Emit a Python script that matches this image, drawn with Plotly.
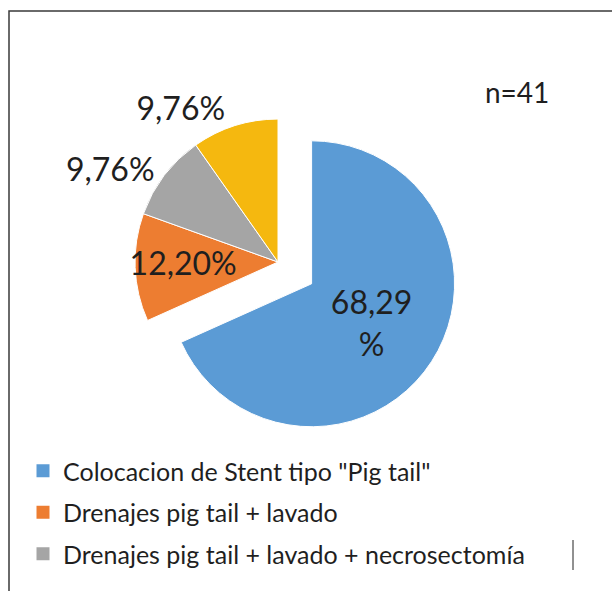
import plotly.graph_objects as go

# data (n=41)
categories = [
    'Colocacion de Stent tipo "Pig tail"',
    "Drenajes pig tail + lavado",
    "Drenajes pig tail + lavado + necrosectomía",
    "Otros",
]
counts = [28, 5, 4, 4]
colors = ["#5B9BD5", "#ED7D31", "#A5A5A5", "#F5B80F"]
legend_shown = 3  # the 4th legend entry is cropped out of the original picture

total = sum(counts)
pct_text = [f"{c / total * 100:.2f}".replace(".", ",") + "%" for c in counts]
pct_text[0] = pct_text[0].replace("%", "<br>%")  # wrapped label in the big slice

FONT = "Lato, Arial, sans-serif"
TEXT = "#1f1f1f"

fig = go.Figure()
fig.add_trace(
    go.Pie(
        labels=categories,
        values=counts,
        text=pct_text,
        textinfo="text",
        sort=False,
        direction="clockwise",
        rotation=0,
        pull=[0.28, 0, 0, 0],
        marker=dict(colors=colors, line=dict(color="white", width=1)),
        textposition=["inside", "inside", "outside", "outside"],
        insidetextorientation="horizontal",
        textfont=dict(family=FONT, size=32, color=TEXT),
        domain=dict(x=[0.1552, 0.7533], y=[0.2470, 0.8663]),
        showlegend=False,
    )
)

# legend entries (drawn as marker-only traces so the cropped one can be left out)
for name, col in zip(categories[:legend_shown], colors[:legend_shown]):
    fig.add_trace(
        go.Scatter(
            x=[None], y=[None], mode="markers", name=name, legendgroup=name,
            marker=dict(symbol="square", size=13, color=col),
        )
    )

fig.add_annotation(
    text="n=41", x=517 / 612, y=1 - 92 / 591, xref="paper", yref="paper",
    xanchor="center", yanchor="middle",
    showarrow=False, font=dict(family=FONT, size=28, color=TEXT),
)

# chart frame and stray cursor line from the original screenshot
fig.add_shape(type="rect", xref="paper", yref="paper", x0=9 / 612, x1=1.05, y0=-0.05, y1=1 - 11 / 591,
              line=dict(color="#3a3a3a", width=1.5))
fig.add_shape(type="line", xref="paper", yref="paper", x0=573 / 612, x1=573 / 612,
              y0=1 - 540 / 591, y1=1 - 570 / 591, line=dict(color="#222222", width=1))

fig.update_layout(
    width=612,
    height=591,
    margin=dict(l=0, r=0, t=0, b=0, autoexpand=False),
    paper_bgcolor="white",
    plot_bgcolor="white",
    font=dict(family=FONT, color=TEXT),
    xaxis=dict(visible=False),
    yaxis=dict(visible=False),
    uniformtext=dict(minsize=32, mode="show"),
    legend=dict(
        x=23 / 612, y=1 - 448 / 591, xanchor="left", yanchor="top",
        font=dict(family=FONT, size=25, color=TEXT),
        tracegroupgap=6, itemwidth=30, bgcolor="rgba(0,0,0,0)",
    ),
)

fig.write_html(
    "out.html",
    config={"displayModeBar": False},
    post_script="document.body.style.margin='0';",
)
